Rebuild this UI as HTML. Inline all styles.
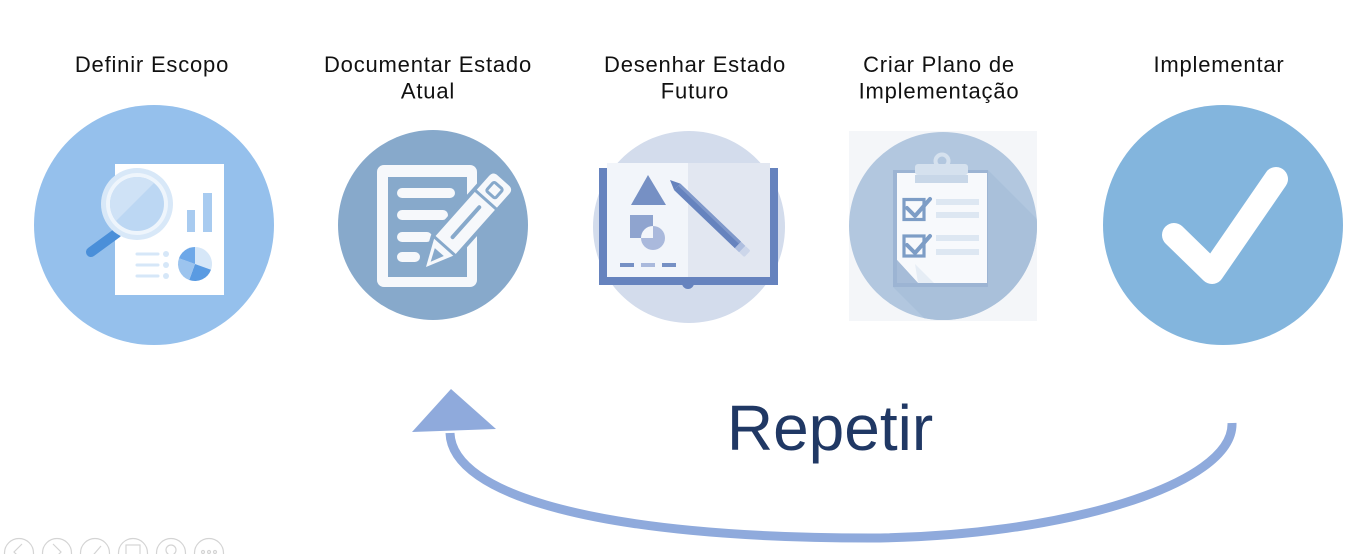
<!DOCTYPE html>
<html>
<head>
<meta charset="utf-8">
<style>
  html,body{margin:0;padding:0;background:#fff;}
  body{width:1365px;height:554px;overflow:hidden;}
  svg{display:block;}
  text{font-family:"Liberation Sans", Arial, sans-serif;}
</style>
</head>
<body>
<svg width="1365" height="554" viewBox="0 0 1365 554" xmlns="http://www.w3.org/2000/svg">
  <defs>
    <clipPath id="lens"><circle cx="137" cy="204" r="27"/></clipPath>
    <clipPath id="c4"><circle cx="943" cy="226" r="94"/></clipPath>
  </defs>
  <rect width="1365" height="554" fill="#fff"/>

  <!-- Labels -->
  <g fill="#111" font-size="22" text-anchor="middle" letter-spacing="0.8">
    <text x="152" y="72">Definir Escopo</text>
    <text x="428" y="72">Documentar Estado</text>
    <text x="428" y="98.5">Atual</text>
    <text x="695" y="72">Desenhar Estado</text>
    <text x="695" y="98.5">Futuro</text>
    <text x="939" y="72">Criar Plano de</text>
    <text x="939" y="98.5">Implementação</text>
    <text x="1219" y="72">Implementar</text>
  </g>

  <!-- Icon 1 : Definir Escopo -->
  <circle cx="154" cy="225" r="120" fill="#95C0EC"/>
  <rect x="115" y="164" width="109" height="131" fill="#ffffff"/>
  <rect x="187" y="210" width="8" height="22" fill="#A8CBF0"/>
  <rect x="203" y="193" width="9" height="39" fill="#A8CBF0"/>
  <g stroke="#D6E7F8" stroke-width="3" stroke-linecap="round">
    <line x1="137" y1="254" x2="158" y2="254"/>
    <line x1="137" y1="265" x2="158" y2="265"/>
    <line x1="137" y1="276" x2="158" y2="276"/>
  </g>
  <g fill="#D6E7F8">
    <circle cx="166" cy="254" r="3"/>
    <circle cx="166" cy="265" r="3"/>
    <circle cx="166" cy="276" r="3"/>
  </g>
  <path d="M195,264 L195,247 A17,17 0 0 1 211,269.8 Z" fill="#D6E7F8"/>
  <path d="M195,264 L211,269.8 A17,17 0 0 1 189.2,280 Z" fill="#5A9BE2"/>
  <path d="M195,264 L189.2,280 A17,17 0 0 1 179,258.2 Z" fill="#9CC4EE"/>
  <path d="M195,264 L179,258.2 A17,17 0 0 1 195,247 Z" fill="#6EA8E8"/>
  <line x1="117" y1="233" x2="91" y2="252" stroke="#4A8FD9" stroke-width="10" stroke-linecap="round"/>
  <circle cx="137" cy="204" r="36" fill="#D8E8F8"/>
  <circle cx="137" cy="204" r="31" fill="#EEF5FC"/>
  <circle cx="137" cy="204" r="27" fill="#BCD7F3"/>
  <polygon points="100,167 170,167 100,237" fill="#CFE2F6" clip-path="url(#lens)"/>

  <!-- Icon 2 : Documentar Estado Atual -->
  <circle cx="433" cy="225" r="95" fill="#87A9CB"/>
  <rect x="377" y="165" width="100" height="122" rx="7" fill="#F6F8FB"/>
  <rect x="388" y="177" width="79" height="100" fill="#87A9CB"/>
  <g stroke="#F6F8FB" stroke-width="10" stroke-linecap="round">
    <line x1="402" y1="193" x2="450" y2="193"/>
    <line x1="402" y1="215" x2="443" y2="215"/>
    <line x1="402" y1="237" x2="427" y2="237"/>
    <line x1="402" y1="257" x2="415" y2="257"/>
  </g>
  <g transform="translate(426,267) rotate(-48.3)">
    <path d="M0,0 L28,-13.5 L110,-13.5 Q116,-13.5 116,-7.5 L116,7.5 Q116,13.5 110,13.5 L28,13.5 Z" fill="#87A9CB" stroke="#87A9CB" stroke-width="8" stroke-linejoin="round"/>
    <path d="M0,0 L28,-13.5 L110,-13.5 Q116,-13.5 116,-7.5 L116,7.5 Q116,13.5 110,13.5 L28,13.5 Z" fill="#F6F8FB"/>
    <polygon points="7,0 20,-6 20,6" fill="#87A9CB"/>
    <line x1="28" y1="-14" x2="28" y2="14" stroke="#87A9CB" stroke-width="3"/>
    <line x1="40" y1="0" x2="80" y2="0" stroke="#87A9CB" stroke-width="4" stroke-linecap="round"/>
    <line x1="90" y1="-14" x2="90" y2="14" stroke="#87A9CB" stroke-width="3"/>
    <rect x="97" y="-6" width="12" height="12" rx="2" fill="none" stroke="#87A9CB" stroke-width="3"/>
  </g>

  <!-- Icon 3 : Desenhar Estado Futuro -->
  <circle cx="689" cy="227" r="96" fill="#D3DCEC"/>
  <rect x="599" y="168" width="179" height="117" fill="#6683BE"/>
  <circle cx="688" cy="283" r="6" fill="#6683BE"/>
  <rect x="607" y="163" width="81" height="114" fill="#F2F5FA"/>
  <rect x="688" y="163" width="82" height="114" fill="#E2E7F1"/>
  <polygon points="648,175 631,205 666,205" fill="#7690C4"/>
  <rect x="630" y="215" width="23" height="23" fill="#8FA4CF"/>
  <circle cx="653" cy="238" r="12" fill="#AAB9DC"/>
  <path d="M653,226 L653,238 L641,238 A12,12 0 0 1 653,226 Z" fill="#F2F5FA"/>
  <rect x="620" y="263" width="14" height="4" fill="#7690C4"/>
  <rect x="641" y="263" width="14" height="4" fill="#AAB9DC"/>
  <rect x="662" y="263" width="14" height="4" fill="#7690C4"/>
  <g transform="translate(670,180) rotate(43.7)">
    <polygon points="0,0 10,-4.5 10,4.5" fill="#6683BE"/>
    <rect x="10" y="-4.5" width="84" height="9" fill="#6683BE"/>
    <rect x="10" y="-4.5" width="84" height="3" fill="#7F98CA"/>
    <rect x="94" y="-4.5" width="6" height="9" fill="#AEBEDF"/>
    <rect x="100" y="-4.5" width="7" height="9" rx="1.5" fill="#CCD6EA"/>
  </g>

  <!-- Icon 4 : Criar Plano de Implementação -->
  <rect x="849" y="131" width="188" height="190" fill="#F4F6F9"/>
  <circle cx="943" cy="226" r="94" fill="#B2C7DF"/>
  <polygon points="988,170 1100,282 1100,399 1005,399 893,287 988,287" fill="#A9C0DA" clip-path="url(#c4)"/>
  <rect x="893" y="170" width="95" height="117" fill="#9CB4D3"/>
  <path d="M897,173 L987,173 L987,283 L918,283 L897,260 Z" fill="#F7F9FC"/>
  <polygon points="897,260 918,283 897,283" fill="#A6BCD8"/>
  <polygon points="915,264 918,283 934,283" fill="#E6EDF5"/>
  <circle cx="942" cy="161" r="6.5" fill="none" stroke="#D5E1EE" stroke-width="4"/>
  <rect x="915" y="164" width="53" height="11" rx="3" fill="#D5E1EE"/>
  <rect x="915" y="175" width="53" height="8" fill="#C8D7E8"/>
  <g fill="none" stroke="#7D9DC6" stroke-width="3.2">
    <rect x="904" y="199.5" width="20" height="20"/>
    <rect x="904" y="236" width="20" height="20"/>
  </g>
  <g fill="none" stroke="#7D9DC6" stroke-width="4" stroke-linecap="round" stroke-linejoin="round">
    <polyline points="907,208 915,216 930,199"/>
    <polyline points="907,245 915,253 930,236"/>
  </g>
  <g fill="#DDE7F2">
    <rect x="936" y="199" width="43" height="6"/>
    <rect x="936" y="212" width="43" height="6"/>
    <rect x="936" y="235" width="43" height="6"/>
    <rect x="936" y="249" width="43" height="6"/>
  </g>

  <!-- Icon 5 : Implementar -->
  <circle cx="1223" cy="225" r="120" fill="#83B5DD"/>
  <polyline points="1174,235 1212,272 1276,179" fill="none" stroke="#ffffff" stroke-width="24" stroke-linecap="round" stroke-linejoin="round"/>

  <!-- Repetir arrow -->
  <path d="M1232,423 C1234,485 1060,537 870,538 C600,538 452,495 450,433" fill="none" stroke="#8FAADC" stroke-width="9"/>
  <polygon points="412,432 451,389 496,429" fill="#8FAADC"/>
  <text x="830" y="450" font-size="64" fill="#203864" text-anchor="middle">Repetir</text>

  <!-- Toolbar (bottom left, faint) -->
  <g fill="none" stroke="#D4D4D4" stroke-width="1.2">
    <circle cx="19" cy="553" r="14.5"/>
    <circle cx="57" cy="553" r="14.5"/>
    <circle cx="95" cy="553" r="14.5"/>
    <circle cx="133" cy="553" r="14.5"/>
    <circle cx="171" cy="553" r="14.5"/>
    <circle cx="209" cy="553" r="14.5"/>
    <polyline points="22,544 14,552 22,560"/>
    <polyline points="53,544 61,552 53,560"/>
    <line x1="89" y1="560" x2="101" y2="546"/>
    <rect x="126" y="545" width="14" height="10"/>
    <circle cx="171" cy="550" r="5"/>
    <circle cx="203" cy="552" r="1.5"/>
    <circle cx="209" cy="552" r="1.5"/>
    <circle cx="215" cy="552" r="1.5"/>
  </g>
</svg>
</body>
</html>
